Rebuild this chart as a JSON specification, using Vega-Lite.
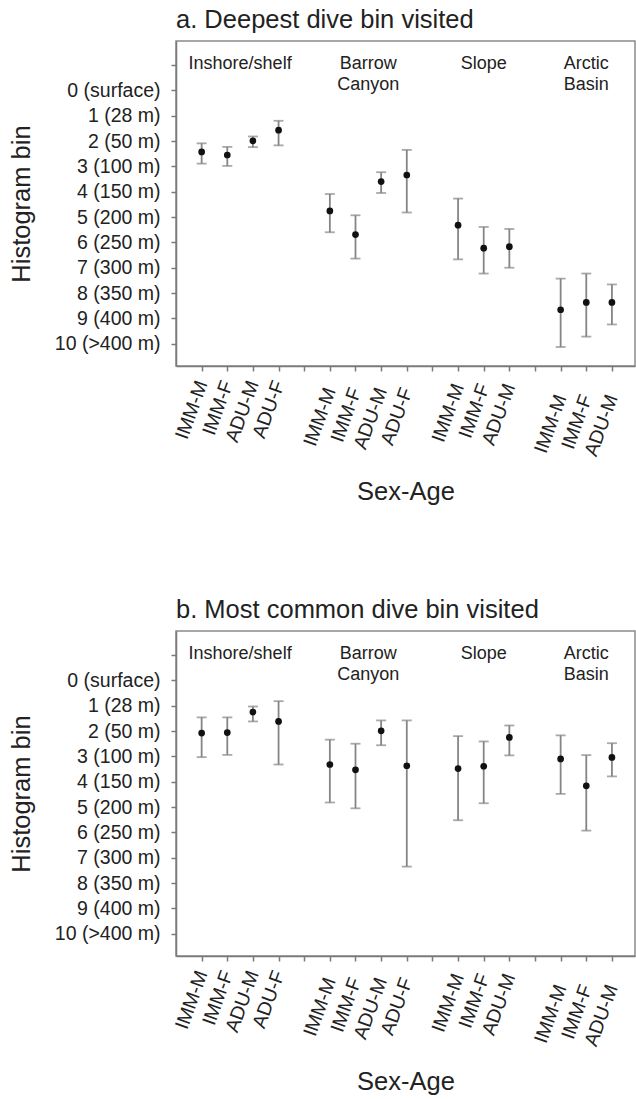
{
  "$schema": "https://vega.github.io/schema/vega-lite/v6.json",
  "padding": {"left": 8, "top": 6, "right": 0, "bottom": 0},
  "spacing": 90,
  "config": {
    "font": "Liberation Sans",
    "view": {"stroke": "#8a8a8a", "strokeWidth": 1.5},
    "axis": {"grid": false, "domainColor": "#7a7a7a", "domainWidth": 1.5, "tickColor": "#7a7a7a", "tickWidth": 1.5, "tickSize": 5, "labelColor": "#222", "titleColor": "#222", "labelFont": "Liberation Sans", "titleFont": "Liberation Sans", "titleFontWeight": "normal", "labelFontSize": 19.5, "titleFontSize": 25.5, "labelOverlap": false, "labelFlush": false, "labelBound": false, "tickCount": 30},
    "axisY": {"labelPadding": 11, "titlePadding": 20, "labelOverlap": false, "tickCount": 30},
    "title": {"font": "Liberation Sans", "fontSize": 25.5, "fontWeight": "normal", "color": "#222", "anchor": "start", "frame": "group", "offset": 8}
  },
  "data": {"values": [
    {"panel": "a", "region": "Inshore/shelf", "group": "IMM-M", "pos": 1, "mean": 2.43, "lo": 2.09, "hi": 2.89},
    {"panel": "a", "region": "Inshore/shelf", "group": "IMM-F", "pos": 2, "mean": 2.55, "lo": 2.23, "hi": 2.98},
    {"panel": "a", "region": "Inshore/shelf", "group": "ADU-M", "pos": 3, "mean": 1.99, "lo": 1.82, "hi": 2.24},
    {"panel": "a", "region": "Inshore/shelf", "group": "ADU-F", "pos": 4, "mean": 1.57, "lo": 1.20, "hi": 2.17},
    {"panel": "a", "region": "Barrow Canyon", "group": "IMM-M", "pos": 6, "mean": 4.76, "lo": 4.09, "hi": 5.60},
    {"panel": "a", "region": "Barrow Canyon", "group": "IMM-F", "pos": 7, "mean": 5.69, "lo": 4.93, "hi": 6.64},
    {"panel": "a", "region": "Barrow Canyon", "group": "ADU-M", "pos": 8, "mean": 3.60, "lo": 3.23, "hi": 4.05},
    {"panel": "a", "region": "Barrow Canyon", "group": "ADU-F", "pos": 9, "mean": 3.34, "lo": 2.35, "hi": 4.82},
    {"panel": "a", "region": "Slope", "group": "IMM-M", "pos": 11, "mean": 5.32, "lo": 4.27, "hi": 6.67},
    {"panel": "a", "region": "Slope", "group": "IMM-F", "pos": 12, "mean": 6.23, "lo": 5.39, "hi": 7.23},
    {"panel": "a", "region": "Slope", "group": "ADU-M", "pos": 13, "mean": 6.17, "lo": 5.47, "hi": 7.00},
    {"panel": "a", "region": "Arctic Basin", "group": "IMM-M", "pos": 15, "mean": 8.66, "lo": 7.43, "hi": 10.13},
    {"panel": "a", "region": "Arctic Basin", "group": "IMM-F", "pos": 16, "mean": 8.37, "lo": 7.23, "hi": 9.72},
    {"panel": "a", "region": "Arctic Basin", "group": "ADU-M", "pos": 17, "mean": 8.37, "lo": 7.66, "hi": 9.24},
    {"panel": "b", "region": "Inshore/shelf", "group": "IMM-M", "pos": 1, "mean": 2.08, "lo": 1.46, "hi": 3.03},
    {"panel": "b", "region": "Inshore/shelf", "group": "IMM-F", "pos": 2, "mean": 2.06, "lo": 1.46, "hi": 2.94},
    {"panel": "b", "region": "Inshore/shelf", "group": "ADU-M", "pos": 3, "mean": 1.25, "lo": 1.03, "hi": 1.62},
    {"panel": "b", "region": "Inshore/shelf", "group": "ADU-F", "pos": 4, "mean": 1.62, "lo": 0.82, "hi": 3.32},
    {"panel": "b", "region": "Barrow Canyon", "group": "IMM-M", "pos": 6, "mean": 3.32, "lo": 2.34, "hi": 4.82},
    {"panel": "b", "region": "Barrow Canyon", "group": "IMM-F", "pos": 7, "mean": 3.53, "lo": 2.50, "hi": 5.05},
    {"panel": "b", "region": "Barrow Canyon", "group": "ADU-M", "pos": 8, "mean": 1.99, "lo": 1.58, "hi": 2.56},
    {"panel": "b", "region": "Barrow Canyon", "group": "ADU-F", "pos": 9, "mean": 3.37, "lo": 1.58, "hi": 7.35},
    {"panel": "b", "region": "Slope", "group": "IMM-M", "pos": 11, "mean": 3.48, "lo": 2.20, "hi": 5.52},
    {"panel": "b", "region": "Slope", "group": "IMM-F", "pos": 12, "mean": 3.39, "lo": 2.41, "hi": 4.85},
    {"panel": "b", "region": "Slope", "group": "ADU-M", "pos": 13, "mean": 2.25, "lo": 1.78, "hi": 2.96},
    {"panel": "b", "region": "Arctic Basin", "group": "IMM-M", "pos": 15, "mean": 3.10, "lo": 2.17, "hi": 4.48},
    {"panel": "b", "region": "Arctic Basin", "group": "IMM-F", "pos": 16, "mean": 4.16, "lo": 2.95, "hi": 5.93},
    {"panel": "b", "region": "Arctic Basin", "group": "ADU-M", "pos": 17, "mean": 3.04, "lo": 2.48, "hi": 3.79}
  ]},
  "vconcat": [
    {
      "title": {"text": "a. Deepest dive bin visited"},
      "width": 459,
      "height": 325,
      "transform": [{"filter": "datum.panel === 'a'"}],
      "encoding": {
        "x": {"field": "pos", "type": "quantitative", "scale": {"domain": [0, 17.9], "nice": false, "zero": false},
          "axis": {"title": "Sex-Age", "values": [1,2,3,4,5,6,7,8,9,10,11,12,13,14,15,16,17], "tickCount": 30, "labelAngle": -70, "titlePadding": 21,
            "labelPadding": {"condition": [{"test": "datum.value >= 15", "value": 24}, {"test": "datum.value >= 11", "value": 13}, {"test": "datum.value >= 6", "value": 17}], "value": 10},
            "labelExpr": "['','IMM-M','IMM-F','ADU-M','ADU-F','','IMM-M','IMM-F','ADU-M','ADU-F','','IMM-M','IMM-F','ADU-M','','IMM-M','IMM-F','ADU-M'][datum.value]"}}
      },
      "layer": [
        {"mark": {"type": "rule", "color": "#858585", "strokeWidth": 1.8},
         "encoding": {"y": {"field": "lo", "type": "quantitative", "scale": {"domain": [-1.95, 10.88], "reverse": true, "nice": false, "zero": false},
           "axis": {"title": "Histogram bin", "values": [-1,0,1,2,3,4,5,6,7,8,9,10], "tickCount": 30, "labelOverlap": false,
             "labelExpr": "datum.value < 0 ? '' : ['0 (surface)','1 (28 m)','2 (50 m)','3 (100 m)','4 (150 m)','5 (200 m)','6 (250 m)','7 (300 m)','8 (350 m)','9 (400 m)','10 (>400 m)'][datum.value]"}},
           "y2": {"field": "hi"}}},
        {"mark": {"type": "tick", "orient": "horizontal", "color": "#858585", "size": 10, "thickness": 1.8},
         "encoding": {"y": {"field": "lo", "type": "quantitative",
           "axis": {"title": "Histogram bin", "values": [-1,0,1,2,3,4,5,6,7,8,9,10], "tickCount": 30, "labelOverlap": false,
             "labelExpr": "datum.value < 0 ? '' : ['0 (surface)','1 (28 m)','2 (50 m)','3 (100 m)','4 (150 m)','5 (200 m)','6 (250 m)','7 (300 m)','8 (350 m)','9 (400 m)','10 (>400 m)'][datum.value]"}}}},
        {"mark": {"type": "tick", "orient": "horizontal", "color": "#858585", "size": 10, "thickness": 1.8},
         "encoding": {"y": {"field": "hi", "type": "quantitative",
           "axis": {"title": "Histogram bin", "values": [-1,0,1,2,3,4,5,6,7,8,9,10], "tickCount": 30, "labelOverlap": false,
             "labelExpr": "datum.value < 0 ? '' : ['0 (surface)','1 (28 m)','2 (50 m)','3 (100 m)','4 (150 m)','5 (200 m)','6 (250 m)','7 (300 m)','8 (350 m)','9 (400 m)','10 (>400 m)'][datum.value]"}}}},
        {"mark": {"type": "point", "filled": true, "color": "#111", "size": 45, "opacity": 1},
         "encoding": {"y": {"field": "mean", "type": "quantitative",
           "axis": {"title": "Histogram bin", "values": [-1,0,1,2,3,4,5,6,7,8,9,10], "tickCount": 30, "labelOverlap": false,
             "labelExpr": "datum.value < 0 ? '' : ['0 (surface)','1 (28 m)','2 (50 m)','3 (100 m)','4 (150 m)','5 (200 m)','6 (250 m)','7 (300 m)','8 (350 m)','9 (400 m)','10 (>400 m)'][datum.value]"}}}},
        {"transform": [{"aggregate": [{"op": "mean", "field": "pos", "as": "center"}], "groupby": ["region"]}],
         "mark": {"type": "text", "align": "center", "baseline": "alphabetic", "fontSize": 18, "lineBreak": " ", "lineHeight": 21, "color": "#222"},
         "encoding": {"x": {"field": "center", "type": "quantitative"}, "y": {"datum": -0.85}, "text": {"field": "region"}}}
      ]
    },
    {
      "title": {"text": "b. Most common dive bin visited"},
      "width": 459,
      "height": 325,
      "transform": [{"filter": "datum.panel === 'b'"}],
      "encoding": {
        "x": {"field": "pos", "type": "quantitative", "scale": {"domain": [0, 17.9], "nice": false, "zero": false},
          "axis": {"title": "Sex-Age", "values": [1,2,3,4,5,6,7,8,9,10,11,12,13,14,15,16,17], "tickCount": 30, "labelAngle": -70, "titlePadding": 21,
            "labelPadding": {"condition": [{"test": "datum.value >= 15", "value": 24}, {"test": "datum.value >= 11", "value": 13}, {"test": "datum.value >= 6", "value": 17}], "value": 10},
            "labelExpr": "['','IMM-M','IMM-F','ADU-M','ADU-F','','IMM-M','IMM-F','ADU-M','ADU-F','','IMM-M','IMM-F','ADU-M','','IMM-M','IMM-F','ADU-M'][datum.value]"}}
      },
      "layer": [
        {"mark": {"type": "rule", "color": "#858585", "strokeWidth": 1.8},
         "encoding": {"y": {"field": "lo", "type": "quantitative", "scale": {"domain": [-1.95, 10.88], "reverse": true, "nice": false, "zero": false},
           "axis": {"title": "Histogram bin", "values": [-1,0,1,2,3,4,5,6,7,8,9,10], "tickCount": 30, "labelOverlap": false,
             "labelExpr": "datum.value < 0 ? '' : ['0 (surface)','1 (28 m)','2 (50 m)','3 (100 m)','4 (150 m)','5 (200 m)','6 (250 m)','7 (300 m)','8 (350 m)','9 (400 m)','10 (>400 m)'][datum.value]"}},
           "y2": {"field": "hi"}}},
        {"mark": {"type": "tick", "orient": "horizontal", "color": "#858585", "size": 10, "thickness": 1.8},
         "encoding": {"y": {"field": "lo", "type": "quantitative",
           "axis": {"title": "Histogram bin", "values": [-1,0,1,2,3,4,5,6,7,8,9,10], "tickCount": 30, "labelOverlap": false,
             "labelExpr": "datum.value < 0 ? '' : ['0 (surface)','1 (28 m)','2 (50 m)','3 (100 m)','4 (150 m)','5 (200 m)','6 (250 m)','7 (300 m)','8 (350 m)','9 (400 m)','10 (>400 m)'][datum.value]"}}}},
        {"mark": {"type": "tick", "orient": "horizontal", "color": "#858585", "size": 10, "thickness": 1.8},
         "encoding": {"y": {"field": "hi", "type": "quantitative",
           "axis": {"title": "Histogram bin", "values": [-1,0,1,2,3,4,5,6,7,8,9,10], "tickCount": 30, "labelOverlap": false,
             "labelExpr": "datum.value < 0 ? '' : ['0 (surface)','1 (28 m)','2 (50 m)','3 (100 m)','4 (150 m)','5 (200 m)','6 (250 m)','7 (300 m)','8 (350 m)','9 (400 m)','10 (>400 m)'][datum.value]"}}}},
        {"mark": {"type": "point", "filled": true, "color": "#111", "size": 45, "opacity": 1},
         "encoding": {"y": {"field": "mean", "type": "quantitative",
           "axis": {"title": "Histogram bin", "values": [-1,0,1,2,3,4,5,6,7,8,9,10], "tickCount": 30, "labelOverlap": false,
             "labelExpr": "datum.value < 0 ? '' : ['0 (surface)','1 (28 m)','2 (50 m)','3 (100 m)','4 (150 m)','5 (200 m)','6 (250 m)','7 (300 m)','8 (350 m)','9 (400 m)','10 (>400 m)'][datum.value]"}}}},
        {"transform": [{"aggregate": [{"op": "mean", "field": "pos", "as": "center"}], "groupby": ["region"]}],
         "mark": {"type": "text", "align": "center", "baseline": "alphabetic", "fontSize": 18, "lineBreak": " ", "lineHeight": 21, "color": "#222"},
         "encoding": {"x": {"field": "center", "type": "quantitative"}, "y": {"datum": -0.85}, "text": {"field": "region"}}}
      ]
    }
  ]
}
